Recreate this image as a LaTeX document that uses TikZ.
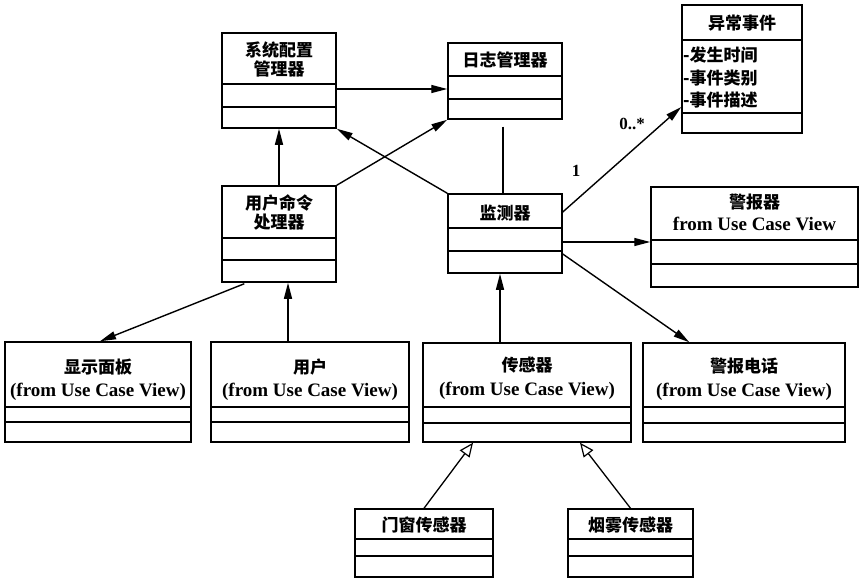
\documentclass[tikz,border=0pt]{standalone}
\usepackage{fontspec}
\setmainfont{Liberation Serif}
\newfontfamily\cjk{Noto Sans CJK SC}
\usetikzlibrary{positioning}
\usetikzlibrary{arrows.meta}
\usetikzlibrary{calc}
\tikzset{
  cls/.style={draw, line width=1.5pt, rectangle, inner sep=0pt},
  cname/.style={font=\cjk\bfseries\fontsize{17}{19}\selectfont, align=center, inner sep=0pt},
  fromuc/.style={font=\bfseries\fontsize{19}{21}\selectfont, inner sep=0pt},
  arr/.style={line width=1.4pt, -{Triangle[length=16pt,width=8pt]}},
  gen/.style={line width=1.3pt, -{Triangle[open,length=14pt,width=12pt,line width=1.2pt]}},
  lnk/.style={line width=1.4pt}
}

\begin{document}
\begin{tikzpicture}[x=1pt,y=-1pt]
\useasboundingbox[fill=white] (0,0) rectangle (864,583);

% classes
\node[cls, minimum width=114pt, minimum height=95pt] (xtpz) at (279,80.5) {};
\node[cls, minimum width=114pt, minimum height=76pt] (rzgl) at (505,81) {};
\node[cls, minimum width=114pt, minimum height=96pt] (mlcl) at (279,234) {};
\node[cls, minimum width=114pt, minimum height=79pt] (jcq) at (505,233.5) {};
\node[cls, minimum width=120pt, minimum height=128pt] (ycsj) at (742,69) {};
\node[cls, minimum width=207pt, minimum height=100pt] (bjq) at (754.5,237) {};
\node[cls, minimum width=186pt, minimum height=100pt] (xsmb) at (98,392) {};
\node[cls, minimum width=198pt, minimum height=100pt] (yh) at (310,392) {};
\node[cls, minimum width=208pt, minimum height=99pt] (cgq) at (527,392.5) {};
\node[cls, minimum width=202pt, minimum height=99pt] (bjdh) at (744,392.5) {};
\node[cls, minimum width=138pt, minimum height=68pt] (mccg) at (424,543) {};
\node[cls, minimum width=125pt, minimum height=68pt] (ywcg) at (630.5,543) {};

% compartments
\foreach \n/\a/\b in {xtpz/84/107, rzgl/76/99, mlcl/238/260, jcq/228/251,
    ycsj/40/113, bjq/240/264, xsmb/407/422, yh/407/422, cgq/407/423,
    bjdh/407/423, mccg/539/556, ywcg/539/556} {
  \draw[line width=1.5pt] (\n.west |- 0,\a) -- (\n.east |- 0,\a);
  \draw[line width=1.5pt] (\n.west |- 0,\b) -- (\n.east |- 0,\b);
}

% names
\node[cname] (xtpzt) at (279,59) {系统配置\\管理器};
\node[cname] (rzglt) at (505,60) {日志管理器};
\node[cname] (mlclt) at (279,212) {用户命令\\处理器};
\node[cname] (jcqt) at (505,213) {监测器};
\node[cname] (ycsjt) at (742,23) {异常事件};
\node[cname, anchor=west] (attr1) at (683,55) {-发生时间};
\node[cname, anchor=west] (attr2) at (683,78) {-事件类别};
\node[cname, anchor=west] (attr3) at (683,100) {-事件描述};
\node[cname] (bjqt) at (754.5,202) {警报器};
\node[fromuc] (bjqf) at (754.5,224) {from Use Case View};
\node[cname] (xsmbt) at (98,367) {显示面板};
\node[fromuc] (xsmbf) at (98,392) {(from Use Case View)};
\node[cname] (yht) at (310,367) {用户};
\node[fromuc] (yhf) at (310,392) {(from Use Case View)};
\node[cname] (cgqt) at (527,365) {传感器};
\node[fromuc] (cgqf) at (527,391) {(from Use Case View)};
\node[cname] (bjdht) at (744,366) {警报电话};
\node[fromuc] (bjdhf) at (744,392) {(from Use Case View)};
\node[cname] (mccgt) at (424,525) {门窗传感器};
\node[cname] (ywcgt) at (630.5,525) {烟雾传感器};

% multiplicities
\node[font=\bfseries\fontsize{17}{19}\selectfont] (one) at (576,171) {1};
\node[font=\bfseries\fontsize{17}{19}\selectfont] (many) at (632,124) {0..*};

% links
\draw[arr] (xtpz.east |- 0,89) -- (rzgl.west |- 0,89);
\draw[arr] (mlcl.north) -- (xtpz.south);
\draw[arr] (mlcl.north east) -- (rzgl.south west);
\draw[arr] (jcq.north west) -- (xtpz.south east);
\draw[lnk] ($(rzgl.south)+(-2,7)$) -- ($(jcq.north)+(-2,0)$);
\draw[arr] (jcq.east |- 0,212) -- (ycsj.west |- 0,107);
\draw[arr] (jcq.east |- 0,242) -- (bjq.west |- 0,242);
\draw[arr] (jcq.east |- 0,254) -- ($(bjdh.north west)+(47,0)$);
\draw[arr] ($(cgq.north)+(-27,0)$) -- ($(jcq.south)+(-5,0)$);
\draw[arr] ($(mlcl.south west)+(23,1)$) -- ($(xsmb.north)+(2,0)$);
\draw[arr] ($(yh.north)+(-22,0)$) -- ($(mlcl.south)+(9,0)$);
\draw[gen] (mccg.north) -- ($(cgq.south)+(-54,0)$);
\draw[gen] (ywcg.north) -- ($(cgq.south)+(53,0)$);
\end{tikzpicture}
\end{document}
